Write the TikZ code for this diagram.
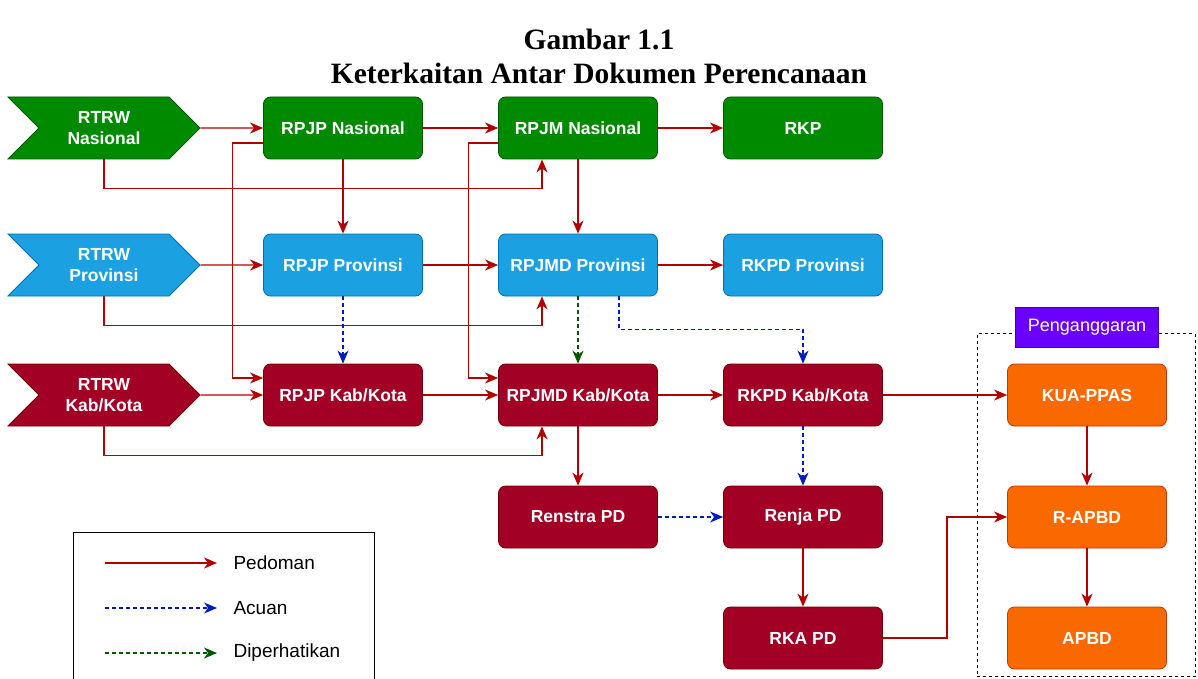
\documentclass[tikz,border=0pt]{standalone}
\usepackage{fontspec}
\setmainfont{Liberation Serif}
\setsansfont{Liberation Sans}
\usepackage{xcolor}
\usepackage{tikz}
\usetikzlibrary{shapes.symbols,arrows.meta}

\definecolor{grnFill}{HTML}{008A00}
\definecolor{grnLine}{HTML}{005700}
\definecolor{bluFill}{HTML}{1BA1E2}
\definecolor{bluLine}{HTML}{006EAF}
\definecolor{redFill}{HTML}{A20025}
\definecolor{redLine}{HTML}{6F0000}
\definecolor{orgFill}{HTML}{FA6800}
\definecolor{orgLine}{HTML}{C73500}
\definecolor{vioFill}{HTML}{6A00FF}
\definecolor{vioLine}{HTML}{3700CC}
\definecolor{pedRed}{HTML}{B20000}
\definecolor{acuBlue}{HTML}{001DBC}
\definecolor{dipGreen}{HTML}{005700}

\begin{document}
\begin{tikzpicture}[x=1pt,y=-1pt,
    box/.style={shape=rectangle, rounded corners=7pt, minimum width=159pt, minimum height=62pt,
      line width=0.8pt, text=white, align=center, font=\sffamily\bfseries\fontsize{17.5}{21}\selectfont},
    rtrw/.style={shape=signal, signal from=west, signal to=east, signal pointer angle=90,
      minimum width=192pt, minimum height=62pt, inner sep=0pt, line width=0.8pt, text=white,
      align=center, font=\sffamily\bfseries\fontsize{17.5}{21}\selectfont},
    nas/.style={fill=grnFill, draw=grnLine},
    prov/.style={fill=bluFill, draw=bluLine},
    kab/.style={fill=redFill, draw=redLine},
    angg/.style={fill=orgFill, draw=orgLine},
    tip/.style={-{Stealth[length=13pt,width=11pt,inset=4pt]}},
    ped/.style={tip, draw=pedRed, line width=1.2pt},
    acu/.style={tip, draw=acuBlue, line width=1.2pt, dash pattern=on 4pt off 3pt},
    dip/.style={tip, draw=dipGreen, line width=1.2pt, dash pattern=on 4pt off 3pt},
    legtext/.style={anchor=west, font=\sffamily\fontsize{19}{22}\selectfont}]
    \useasboundingbox (0,0) rectangle (1198,679);

    \node[font=\bfseries\fontsize{29.5}{34}\selectfont, align=center] (title) at (599,56)
      {Gambar 1.1\\Keterkaitan Antar Dokumen Perencanaan};

    % baris nasional
    \node[rtrw, nas] (rtrwN) at (104,128) {RTRW\\Nasional};
    \node[box, nas] (rpjpN) at (343,128) {RPJP Nasional};
    \node[box, nas] (rpjmN) at (578,128) {RPJM Nasional};
    \node[box, nas] (rkp) at (803,128) {RKP};
    % baris provinsi
    \node[rtrw, prov] (rtrwP) at (104,265) {RTRW\\Provinsi};
    \node[box, prov] (rpjpP) at (343,265) {RPJP Provinsi};
    \node[box, prov] (rpjmdP) at (578,265) {RPJMD Provinsi};
    \node[box, prov] (rkpdP) at (803,265) {RKPD Provinsi};
    % baris kab/kota
    \node[rtrw, kab] (rtrwK) at (104,395) {RTRW\\Kab/Kota};
    \node[box, kab] (rpjpK) at (343,395) {RPJP Kab/Kota};
    \node[box, kab] (rpjmdK) at (578,395) {RPJMD Kab/Kota};
    \node[box, kab] (rkpdK) at (803,395) {RKPD Kab/Kota};
    \node[box, kab] (renstra) at (578,517) {Renstra PD};
    \node[box, kab] (renja) at (803,517) {Renja PD};
    \node[box, kab] (rka) at (803,638) {RKA PD};

    % penganggaran
    \node[draw, dashed, line width=0.8pt, minimum width=218pt, minimum height=343pt] (budget) at (1086,505) {};
    \node[fill=vioFill, draw=vioLine, text=white, minimum width=143pt, minimum height=40pt,
      font=\sffamily\fontsize{18}{21}\selectfont] (penganggaran) at (1087,327) {Penganggaran};
    \node[box, angg] (kua) at (1087,395) {KUA-PPAS};
    \node[box, angg] (rapbd) at (1087,517) {R-APBD};
    \node[box, angg] (apbd) at (1087,638) {APBD};

    % pedoman
    \draw[ped] (rtrwN) -- (rpjpN);
    \draw[ped] (rpjpN) -- (rpjmN);
    \draw[ped] (rpjmN) -- (rkp);
    \draw[ped] (rtrwP) -- (rpjpP);
    \draw[ped] (rpjpP) -- (rpjmdP);
    \draw[ped] (rpjmdP) -- (rkpdP);
    \draw[ped] (rtrwK) -- (rpjpK);
    \draw[ped] (rpjpK) -- (rpjmdK);
    \draw[ped] (rpjmdK) -- (rkpdK);
    \draw[ped] (rkpdK) -- (kua);
    \draw[ped] (rpjpN) -- (rpjpP);
    \draw[ped] (rpjmN) -- (rpjmdP);
    \draw[ped] (rpjmdK) -- (renstra);
    \draw[ped] (renja) -- (rka);
    \draw[ped] (kua) -- (rapbd);
    \draw[ped] (rapbd) -- (apbd);
    \draw[ped] (rtrwN.south) -- ++(0,29) -| ([xshift=-36pt]rpjmN.south);
    \draw[ped] (rtrwP.south) -- ++(0,29) -| ([xshift=-36pt]rpjmdP.south);
    \draw[ped] (rtrwK.south) -- ++(0,29) -| ([xshift=-36pt]rpjmdK.south);
    \draw[ped] ([yshift=-15pt]rpjpN.west) -- ++(-31,0) |- ([yshift=17pt]rpjpK.west);
    \draw[ped] ([yshift=-15pt]rpjmN.west) -- ++(-30,0) |- ([yshift=17pt]rpjmdK.west);
    \draw[ped] (rka.east) -- ++(64,0) |- (rapbd.west);
    % acuan dan diperhatikan
    \draw[acu] (rpjpP) -- (rpjpK);
    \draw[acu] ([xshift=41pt]rpjmdP.south) -- ++(0,33) -| (rkpdK.north);
    \draw[acu] (rkpdK) -- (renja);
    \draw[acu] (renstra) -- (renja);
    \draw[dip] (rpjmdP) -- (rpjmdK);

    % legenda
    \draw[line width=0.8pt] (73,679) |- (374,532) -- (374,679);
    \node[legtext] (lPed) at (230,563) {Pedoman};
    \node[legtext] (lAcu) at (230,608) {Acuan};
    \node[legtext] (lDip) at (230,653) {Diperhatikan};
    \coordinate (lPedA) at (105,563);
    \coordinate (lAcuA) at (105,608);
    \coordinate (lDipA) at (105,653);
    \draw[ped] (lPedA) -- ([xshift=-13pt]lPed.west);
    \draw[acu] (lAcuA) -- ([xshift=-13pt]lAcu.west);
    \draw[dip] (lDipA) -- ([xshift=-13pt]lDip.west);
  \end{tikzpicture}
\end{document}
